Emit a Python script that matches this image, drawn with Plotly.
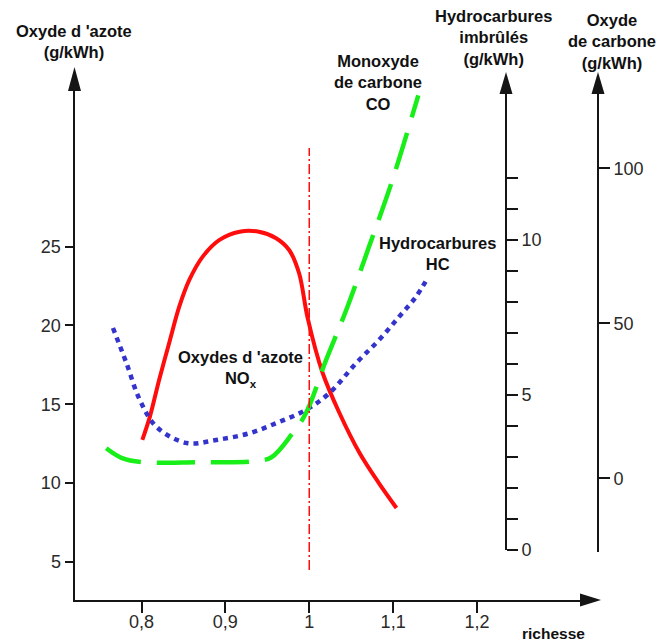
import plotly.graph_objects as go

W, H = 660, 644
# height the figure actually occupies on the page, used for paper placement
H_PAGE = 634

# Emissions versus richesse (air/fuel equivalence ratio)
nox_richesse = [0.801, 0.810, 0.821, 0.833, 0.845, 0.857, 0.873, 0.893, 0.917,
                0.940, 0.960, 0.976, 0.988, 0.998, 1.016, 1.036, 1.060,
                1.083, 1.104]
nox_gkwh = [12.73, 14.21, 16.54, 18.89, 21.19, 22.89, 24.37, 25.43, 25.95,
            25.95, 25.55, 24.79, 23.30, 20.50, 16.98, 14.44, 11.90,
            9.99, 8.41]

hc_richesse = [0.766, 0.782, 0.798, 0.818, 0.854, 0.889, 0.929, 0.964, 0.996,
               1.024, 1.056, 1.083, 1.107, 1.127, 1.141]
hc_gkwh = [7.16, 6.03, 4.84, 3.97, 3.45, 3.55, 3.77, 4.13, 4.52,
           5.06, 6.03, 6.77, 7.52, 8.16, 8.77]

co_richesse = [0.758, 0.777, 0.801, 0.869, 0.935, 0.955, 0.980, 0.996,
               1.020, 1.044, 1.071, 1.099, 1.130]
co_gkwh = [9.7, 6.5, 5.2, 5.2, 5.5, 6.8, 14.5, 21.0,
           38.1, 54.2, 74.5, 96.1, 123.5]

x_tick_vals = [0.8, 0.9, 1.0, 1.1, 1.2]
x_tick_text = ["0,8", "0,9", "1", "1,1", "1,2"]
nox_tick_vals = [5, 10, 15, 20, 25]
hc_tick_vals = [0, 5, 10]
hc_minor_vals = [1, 2, 3, 4, 6, 7, 8, 9, 11, 12]
co_tick_vals = [0, 50, 100]
stoichiometric = 1.0
marker_line_nox = (4.47, 31.27)

RED = "#ff0d0d"
GREEN = "#18ee18"
BLUE = "#3434cc"
AXIS = "#151515"
TICKTXT = "#2a2a2a"
FONT = "Liberation Sans, Arial, sans-serif"


def pxf(x):
    return x / W


def pyf(y):
    return 1 - y / H_PAGE


def lin_range(v_a, p_a, v_b, p_b, p_lo, p_hi):
    """Value range for a pixel span, given two reference value/pixel pairs."""
    k = (v_b - v_a) / (p_b - p_a)
    return [v_a + (p_lo - p_a) * k, v_a + (p_hi - p_a) * k]


# pixel layout of the axes
X_LEFT, X_RIGHT, X_AXIS_Y = 74.5, 583, 600
Y_TOP = 88
HC_X, HC_BOTTOM = 506, 550
CO_X, CO_BOTTOM = 598, 552

fig = go.Figure()

fig.add_trace(go.Scatter(
    x=nox_richesse, y=nox_gkwh, mode="lines",
    line=dict(color=RED, width=4, shape="spline", smoothing=0.9),
    xaxis="x", yaxis="y"))
fig.add_trace(go.Scatter(
    x=hc_richesse, y=hc_gkwh, mode="lines",
    line=dict(color=BLUE, width=4.5, dash="5px,5px", shape="spline"),
    xaxis="x", yaxis="y2"))
fig.add_trace(go.Scatter(
    x=co_richesse, y=co_gkwh, mode="lines",
    line=dict(color=GREEN, width=4.5, dash="38px,16px", shape="spline"),
    xaxis="x", yaxis="y3"))

tick_font = dict(family=FONT, size=18, color=TICKTXT)

fig.update_layout(
    width=W, height=H,
    margin=dict(l=0, r=0, t=0, b=0),
    paper_bgcolor="white", plot_bgcolor="rgba(0,0,0,0)",
    showlegend=False,
    xaxis=dict(
        domain=[pxf(X_LEFT), pxf(X_RIGHT)],
        range=lin_range(0.8, 141.5, 1.2, 477, X_LEFT, X_RIGHT),
        anchor="y", showgrid=False, zeroline=False,
        showline=True, linecolor=AXIS, linewidth=2,
        ticks="outside", ticklen=11, tickwidth=2, tickcolor=AXIS,
        ticklabelstandoff=-7,
        tickvals=x_tick_vals, ticktext=x_tick_text, tickfont=tick_font,
    ),
    yaxis=dict(
        domain=[pyf(X_AXIS_Y), pyf(Y_TOP)],
        range=lin_range(25, 246.7, 5, 561.7, X_AXIS_Y, Y_TOP),
        anchor="x", showgrid=False, zeroline=False,
        showline=True, linecolor=AXIS, linewidth=2,
        ticks="outside", ticklen=8, tickwidth=2, tickcolor=AXIS,
        tickvals=nox_tick_vals, tickfont=tick_font,
    ),
    yaxis2=dict(
        domain=[pyf(HC_BOTTOM), pyf(Y_TOP)],
        range=lin_range(0, 550, 10, 240, HC_BOTTOM, Y_TOP),
        anchor="free", position=pxf(HC_X), side="right",
        showgrid=False, zeroline=False,
        showline=True, linecolor=AXIS, linewidth=2,
        ticks="outside", ticklen=11, tickwidth=2, tickcolor=AXIS,
        tickvals=hc_tick_vals, tickfont=tick_font,
        minor=dict(tickmode="array", tickvals=hc_minor_vals, ticks="outside",
                   ticklen=11, tickwidth=2, tickcolor=AXIS, showgrid=False),
    ),
    yaxis3=dict(
        domain=[pyf(CO_BOTTOM), pyf(Y_TOP)],
        range=lin_range(0, 478.3, 100, 168.3, CO_BOTTOM, Y_TOP),
        anchor="free", position=pxf(CO_X), side="right",
        showgrid=False, zeroline=False,
        showline=True, linecolor=AXIS, linewidth=2,
        ticks="outside", ticklen=11, tickwidth=2, tickcolor=AXIS,
        tickvals=co_tick_vals, tickfont=tick_font,
    ),
)

# stoichiometric marker line
fig.add_shape(type="line", xref="x", yref="y",
              x0=stoichiometric, x1=stoichiometric,
              y0=marker_line_nox[0], y1=marker_line_nox[1],
              line=dict(color=RED, width=1.5, dash="10px,3px,2px,3px"))


def arrow_up(xc, tip, base, half=6.5):
    return (f"M {pxf(xc - half)},{pyf(base)} L {pxf(xc)},{pyf(tip)} "
            f"L {pxf(xc + half)},{pyf(base)} Z")


def arrow_right(yc, tip, base, half=6.5):
    return (f"M {pxf(base)},{pyf(yc - half)} L {pxf(tip)},{pyf(yc)} "
            f"L {pxf(base)},{pyf(yc + half)} Z")


for path in [arrow_up(X_LEFT, 67, 91), arrow_up(HC_X, 72, 94),
             arrow_up(CO_X, 72, 94), arrow_right(X_AXIS_Y, 601, 580)]:
    fig.add_shape(type="path", xref="paper", yref="paper", path=path,
                  fillcolor=AXIS, line=dict(width=0))

label_font = dict(family=FONT, size=16.5, color="#111111")


def label(text, x, y, size=None):
    f = dict(label_font)
    if size:
        f["size"] = size
    fig.add_annotation(text=text, x=pxf(x), y=pyf(y), xref="paper", yref="paper",
                       showarrow=False, align="center",
                       xanchor="center", yanchor="middle", font=f)


label("<b>Oxyde d 'azote</b><br><b>(g/kWh)</b>", 74, 41)
label("<b>Hydrocarbures</b><br><b>imbrûlés</b><br><b>(g/kWh)</b>", 493, 38)
label("<b>Oxyde</b><br><b>de carbone</b><br><b>(g/kWh)</b>", 612, 41)
label("<b>Monoxyde</b><br><b>de carbone</b><br><b>CO</b>", 378, 83)
label("<b>Hydrocarbures</b><br><b>HC</b>", 437, 254)
label("<b>Oxydes d 'azote</b><br><b>NO<sub>x</sub></b>", 240, 369)
label("<b>richesse</b>", 553, 633, size=15.5)

fig.write_html("out.html")
